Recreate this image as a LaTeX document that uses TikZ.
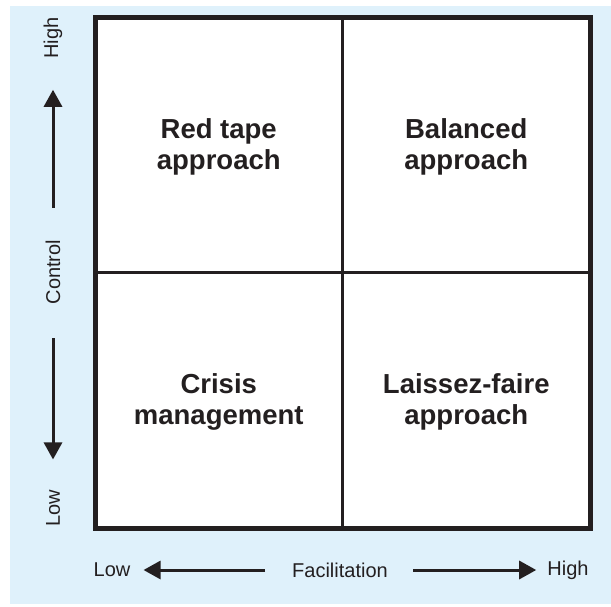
\documentclass[tikz,border=0pt]{standalone}
\usepackage{fontspec}
\setmainfont{Liberation Sans}
\usetikzlibrary{arrows.meta}
\usetikzlibrary{calc}

\definecolor{panelblue}{RGB}{223,241,251}
\definecolor{inkgray}{RGB}{35,31,32}

\tikzset{
    quadlabel/.style={align=center, text=inkgray, font=\bfseries\fontsize{27.5}{31}\selectfont},
    axislabel/.style={inner sep=0pt, text=inkgray, font=\fontsize{20}{24}\selectfont},
    axisarrow/.style={draw=inkgray, line width=3pt, -{Triangle[length=17pt,width=18pt]}},
}

\begin{document}
\begin{tikzpicture}[x=1pt, y=-1pt]
            \useasboundingbox (0, 0) rectangle (611, 606);
            \fill[panelblue] (10, 6) rectangle (611, 604);
            % the grid
            \coordinate (NW) at (95, 17);
            \coordinate (SE) at (590, 528);
            \coordinate (C) at ($(NW)!.5!(SE)$);
            \fill[white] (NW) rectangle (SE);
            \draw[inkgray, line width=3.2pt] (C|-NW) -- (C|-SE);
            \draw[inkgray, line width=3.2pt] (C-|NW) -- (C-|SE);
            \draw[inkgray, line width=5pt] (NW) rectangle (SE);
            \node[quadlabel] (red tape) at ($(NW)!.5!(C)+(0,2)$) {Red tape\\approach};
            \node[quadlabel] (balanced) at ($(C|-NW)!.5!(C-|SE)+(0,2)$) {Balanced\\approach};
            \node[quadlabel] (crisis) at ($(C-|NW)!.5!(C|-SE)+(0,2)$) {Crisis\\management};
            \node[quadlabel] (laissez) at ($(C)!.5!(SE)+(0,2)$) {Laissez-faire\\approach};
            % control axis
            \node[axislabel, rotate=90] (control) at (53, 272) {Control};
            \node[axislabel, rotate=90] (control high) at (53, 38) {High};
            \node[axislabel, rotate=90] (control low) at (53, 508) {Low};
            \draw[axisarrow, shorten <=32pt, shorten >=31pt] (control.east) -- (control high.west);
            \draw[axisarrow, shorten <=34pt, shorten >=30pt] (control.west) -- (control low.east);
            % facilitation axis
            \node[axislabel] (facilitation) at (340, 570) {Facilitation};
            \node[axislabel] (facil low) at (112, 570) {Low};
            \node[axislabel] (facil high) at (568, 570) {High};
            \draw[axisarrow, shorten <=27pt, shorten >=13pt] (facilitation.west) -- (facil low.east);
            \draw[axisarrow, shorten <=25pt, shorten >=11pt] (facilitation.east) -- (facil high.west);
        \end{tikzpicture}
\end{document}
